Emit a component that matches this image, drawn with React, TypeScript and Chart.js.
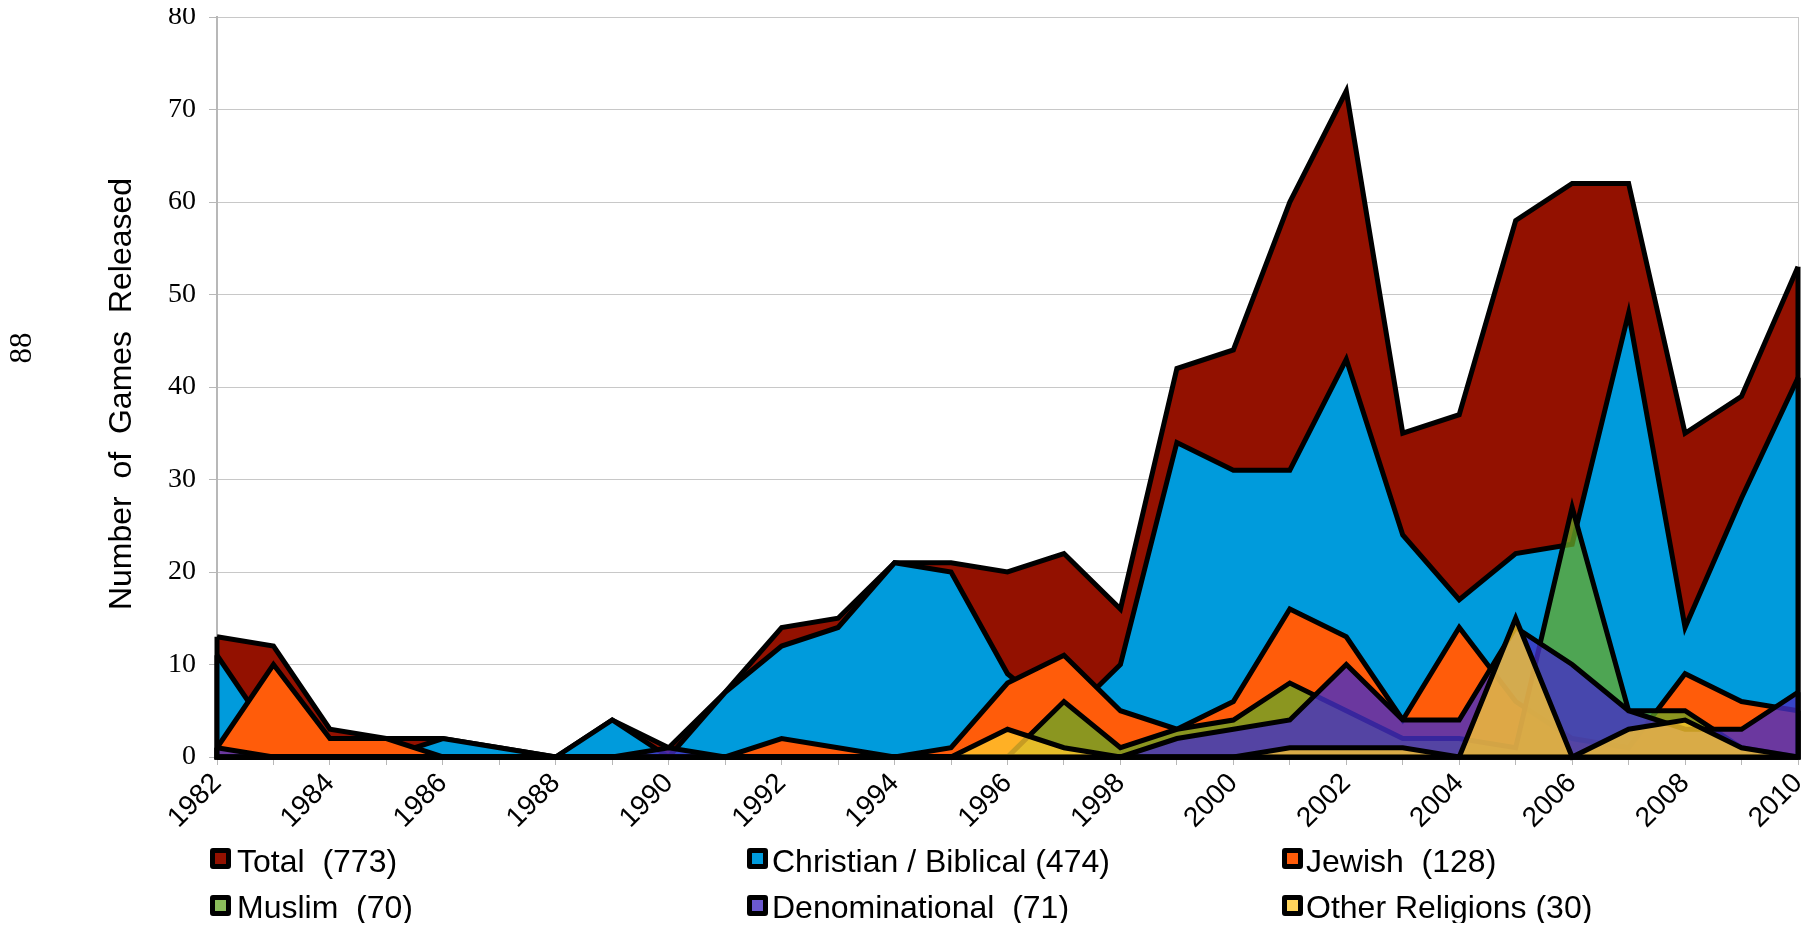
import React, { useEffect, useRef } from "react";
import { Chart, registerables } from "chart.js";

Chart.register(...registerables);

const years = [
  "1982", "1983", "1984", "1985", "1986", "1987", "1988", "1989", "1990", "1991",
  "1992", "1993", "1994", "1995", "1996", "1997", "1998", "1999", "2000", "2001",
  "2002", "2003", "2004", "2005", "2006", "2007", "2008", "2009", "2010",
];

const total = [13, 12, 3, 2, 2, 1, 0, 4, 1, 7, 14, 15, 21, 21, 20, 22, 16, 42, 44, 60, 72, 35, 37, 58, 62, 62, 35, 39, 53];
const christian = [11, 2, 1, 0, 2, 1, 0, 4, 0, 7, 12, 14, 21, 20, 9, 4, 10, 34, 31, 31, 43, 24, 17, 22, 23, 48, 14, 28, 41];
const jewish = [1, 10, 2, 2, 0, 0, 0, 0, 0, 0, 2, 1, 0, 1, 8, 11, 5, 3, 6, 16, 13, 4, 14, 6, 2, 1, 9, 6, 5];
const muslim = [0, 0, 0, 0, 0, 0, 0, 0, 0, 0, 0, 0, 0, 0, 0, 6, 1, 3, 4, 8, 5, 2, 2, 1, 27, 5, 5, 1, 0];
const denominational = [1, 0, 0, 0, 0, 0, 0, 0, 1, 0, 0, 0, 0, 0, 0, 0, 0, 2, 3, 4, 10, 4, 4, 14, 10, 5, 3, 3, 7];
const otherReligions = [0, 0, 0, 0, 0, 0, 0, 0, 0, 0, 0, 0, 0, 0, 3, 1, 0, 0, 0, 1, 1, 1, 0, 15, 0, 3, 4, 1, 0];

const seriesLabels = [
  "Total  (773)",
  "Christian / Biblical (474)",
  "Jewish  (128)",
  "Muslim  (70)",
  "Denominational  (71)",
  "Other Religions (30)",
];
const seriesColors = [
  "#931100",
  "#009bdc",
  "#ff5c0a",
  "rgba(102,168,39,0.76)",
  "rgba(70,48,196,0.8)",
  "rgba(255,200,45,0.78)",
];
const yTickValues = [0, 10, 20, 30, 40, 50, 60, 70, 80];
const yTitle = "Number  of  Games  Released";
const pageNote = "88";

const SANS = '"Liberation Sans", Arial, sans-serif';
const SERIF = '"Liberation Serif", "Times New Roman", serif';

const legendCols = [202, 739, 1274];
const legendTextCols = [229, 764, 1298];
const legendRows = [840, 887];
const legendTextRows = [837, 883];

export default function App() {
  const ref = useRef<HTMLCanvasElement>(null);

  useEffect(() => {
    if (!ref.current) return;
    const allSeries = [total, christian, jewish, muslim, denominational, otherReligions];

    const edgePlugin = {
      id: "areaEdges",
      afterDatasetDraw(chart: any, args: any) {
        const pts = args.meta.data;
        if (!pts || !pts.length) return;
        const y0 = chart.scales.y.getPixelForValue(0);
        const ctx = chart.ctx;
        const first = pts[0];
        const last = pts[pts.length - 1];
        ctx.save();
        ctx.strokeStyle = "#000";
        ctx.lineWidth = 5;
        ctx.lineJoin = "miter";
        ctx.beginPath();
        ctx.moveTo(first.x, first.y);
        ctx.lineTo(first.x, y0);
        ctx.lineTo(last.x, y0);
        ctx.lineTo(last.x, last.y);
        ctx.stroke();
        ctx.restore();
      },
    };

    const textPlugin = {
      id: "sideTexts",
      afterDraw(chart: any) {
        const ctx = chart.ctx;
        ctx.save();
        ctx.fillStyle = "#000";
        ctx.textAlign = "center";
        ctx.textBaseline = "middle";
        // page note
        ctx.save();
        ctx.translate(15, 340);
        ctx.rotate(-Math.PI / 2);
        ctx.font = `31px ${SERIF}`;
        ctx.fillText(pageNote, 0, 0);
        ctx.restore();
        // y axis title
        ctx.save();
        ctx.translate(114, 386);
        ctx.rotate(-Math.PI / 2);
        ctx.font = `32px ${SANS}`;
        ctx.fillText(yTitle, 0, 0);
        ctx.restore();
        ctx.restore();
      },
    };

    const chart = new Chart(ref.current, {
      type: "line",
      data: {
        labels: years,
        datasets: allSeries.map((d, i) => ({
          label: seriesLabels[i],
          data: d,
          backgroundColor: seriesColors[i],
          borderColor: "#000",
          borderWidth: 5,
          fill: "origin",
          pointRadius: 0,
          pointHoverRadius: 0,
          tension: 0,
          order: allSeries.length - i,
          clip: 10,
        })),
      },
      options: {
        animation: false,
        responsive: false,
        maintainAspectRatio: false,
        events: [],
        layout: { padding: { left: 0, right: 14, top: 9, bottom: 0 } },
        plugins: {
          legend: { display: false },
          tooltip: { enabled: false },
          title: { display: false },
        },
        scales: {
          x: {
            type: "category",
            offset: false,
            grid: {
              display: true,
              drawOnChartArea: true,
              color: (ctx: any) => (ctx.index === years.length - 1 ? "#c8c8c8" : "rgba(0,0,0,0)"),
              tickColor: "#b8b8b8",
              tickLength: 8,
              lineWidth: 1,
            },
            border: { display: true, color: "#b8b8b8", width: 1 },
            ticks: {
              autoSkip: false,
              maxRotation: 45,
              minRotation: 45,
              padding: 2,
              color: "#000",
              font: { family: SANS, size: 28 },
              callback: (_v: any, i: number) => (i % 2 === 0 ? years[i] : ""),
            },
            afterFit: (scale: any) => {
              scale.height = 166;
              scale.paddingLeft = 0;
              scale.paddingRight = 0;
            },
          },
          y: {
            min: 0,
            max: 80,
            afterBuildTicks: (scale: any) => {
              scale.ticks = yTickValues.map((v) => ({ value: v }));
            },
            grid: {
              color: "#c8c8c8",
              lineWidth: 1,
              tickColor: "#b8b8b8",
              tickLength: 8,
            },
            border: { display: true, color: "#b8b8b8", width: 2 },
            ticks: {
              padding: 13,
              color: "#000",
              font: { family: SERIF, size: 28 },
            },
            title: { display: false },
            afterFit: (scale: any) => {
              scale.width = 209;
              scale.paddingTop = 0;
              scale.paddingBottom = 0;
            },
          },
        },
      },
      plugins: [edgePlugin, textPlugin],
    } as any);

    return () => chart.destroy();
  }, []);

  return (
    <div style={{ position: "relative", width: 1804, height: 915 }}>
      <canvas ref={ref} width={1804} height={915} style={{ display: "block", width: 1804, height: 915 }} />
      {seriesLabels.map((label, i) => {
        const col = i % 3;
        const row = Math.floor(i / 3);
        return (
          <React.Fragment key={label}>
            <div
              style={{
                position: "absolute",
                left: legendCols[col],
                top: legendRows[row],
                width: 21,
                height: 21,
                boxSizing: "border-box",
                border: "5px solid #000",
                borderRadius: 3,
                background: "#fff",
              }}
            >
              <div style={{ width: "100%", height: "100%", background: seriesColors[i] }} />
            </div>
            <div
              style={{
                position: "absolute",
                left: legendTextCols[col],
                top: legendTextRows[row],
                fontFamily: SANS,
                fontSize: 32,
                lineHeight: "32px",
                whiteSpace: "pre",
                color: "#000",
              }}
            >
              {label}
            </div>
          </React.Fragment>
        );
      })}
    </div>
  );
}
